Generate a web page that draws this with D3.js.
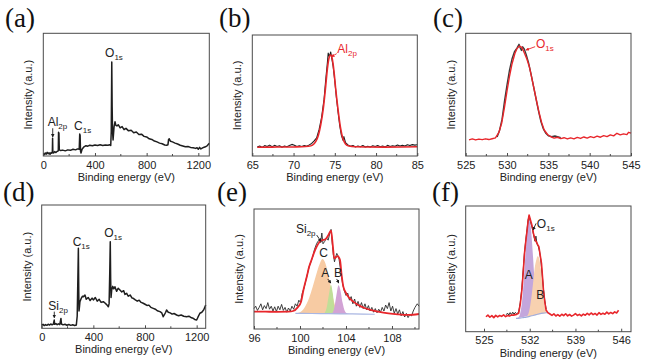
<!DOCTYPE html>
<html>
<head>
<meta charset="utf-8">
<script src="https://cdn.jsdelivr.net/npm/d3@7"></script>
<style>
  body { margin: 0; background: #fff; }
  svg { display: block; }
  text { font-family: "Liberation Sans", Arial, sans-serif; }
  text.letter { font-family: "Liberation Serif", "Times New Roman", serif; }
</style>
</head>
<body>
<svg id="fig" width="646" height="361"></svg>
<script>
// ---- data: [binding energy (eV), intensity (a.u., 0-100)] ----
const surveyA = [[0,2],[8,1.2],[15,2.5],[22,1.5],[30,3],[38,1.8],[45,2.6],[52,1.4],[60,2.8],[66,2.2],[70,3],[72,14.4],[74,3.2],[80,2.5],[88,3.6],[96,2.8],[104,3.5],[112,4],[116,4.2],[118,19.3],[121,18.5],[124,5],[135,4.4],[150,4.8],[170,4.2],[190,5],[210,4.6],[230,5.5],[250,5],[265,5.8],[278,5.5],[282,17.9],[285,17],[288,4],[292,2.4],[300,5.5],[315,7.5],[330,8.4],[345,8],[360,8.8],[380,8.3],[400,9],[420,8.5],[440,9.1],[460,8.6],[480,9],[500,8.7],[515,9.2],[522,8.5],[526,20],[530,76.7],[533,40],[536,20],[540,13],[548,24],[555,27.9],[562,25],[570,24.5],[580,25.5],[595,23],[610,24],[625,21.5],[640,22.5],[660,20.5],[680,21],[700,19],[720,19.5],[740,17.5],[760,17.8],[780,16],[800,15.5],[820,14],[840,13.5],[860,12.2],[880,11.5],[900,10.5],[920,10],[940,9],[955,8.8],[965,9.2],[970,13.6],[975,14],[985,12],[1000,11.5],[1020,10.5],[1040,9.8],[1060,8.8],[1080,8.2],[1100,7.5],[1120,7.8],[1140,7],[1160,6.8],[1180,6.2],[1190,6.8],[1200,5.5],[1210,7],[1220,5.8],[1240,7],[1255,7.5],[1270,8.5],[1285,10.3]];

const al2pData = [[65.6,7.5],[65.9,8.3],[66.2,7.1],[66.5,8.6],[66.8,7.8],[67.1,9.0],[67.4,7.6],[67.7,8.8],[68.0,7.9],[68.3,8.5],[68.6,7.3],[68.9,8.2],[69.2,7.7],[69.5,8.6],[69.8,9.6],[70.1,8.9],[70.4,7.8],[70.7,8.4],[71.0,7.9],[71.3,8.6],[71.6,8.1],[71.9,9.2],[72.2,10.4],[72.5,12.5],[72.8,15],[73.1,22],[73.4,32],[73.7,47],[73.9,63],[74.1,77],[74.2,85],[74.35,82],[74.5,86],[74.65,80],[74.8,74],[75.0,62],[75.2,48],[75.4,36],[75.6,25],[75.8,17],[76.0,13],[76.1,16],[76.3,11],[76.6,9.2],[76.9,8.1],[77.2,8.7],[77.5,7.5],[77.8,8.3],[78.1,7.6],[78.4,8.6],[78.7,7.4],[79.0,8.1],[79.3,7.5],[79.6,8.4],[79.9,7.8],[80.2,8.6],[80.5,7.6],[80.8,8.2],[81.1,7.5],[81.4,8.8],[81.7,7.9],[82.0,8.5],[82.3,8.0],[82.6,9.0],[82.9,8.2],[83.2,8.8],[83.5,8.3],[83.8,9.3],[84.1,8.6],[84.4,9.4],[84.7,9.0],[85.0,9.3]];
const al2pFit = [[65.6,7.2],[67,7.3],[68,7.4],[69,7.4],[70,7.5],[71,7.6],[71.8,8],[72.3,9],[72.7,12],[73,17],[73.3,26],[73.6,39],[73.9,58],[74.1,72],[74.3,81],[74.5,83.5],[74.7,80],[74.9,70],[75.1,56],[75.4,38],[75.7,23],[76,14],[76.3,10],[76.7,8.2],[77.5,7.6],[79,7.4],[81,7.3],[83,7.4],[85,7.6]];

const o1sFitC = [[525.4,13.2],[525.8,13.9],[526.2,13.1],[526.6,13.8],[527.0,13.3],[527.4,14.0],[527.8,13.4],[528.2,14.1],[528.6,14.8],[529.0,19],[529.35,26.6],[529.7,40],[530.0,53],[530.3,65],[530.6,75],[530.96,83.7],[531.2,87.5],[531.5,89.6],[531.8,88.5],[532.1,84],[532.4,79],[532.7,72.8],[533.0,63.5],[533.3,53.8],[533.6,44],[533.9,34.8],[534.2,27],[534.5,21.2],[534.9,17.5],[535.3,15.7],[535.7,14.6],[536.1,15.3],[536.5,14.2],[536.9,14.9],[537.3,13.9],[537.7,14.8],[538.1,14.0],[538.5,15.2],[538.9,14.3],[539.3,15.5],[539.7,14.6],[540.1,15.8],[540.5,15.0],[540.9,16.2],[541.3,15.3],[541.7,16.6],[542.1,15.8],[542.5,17.2],[542.9,16.4],[543.3,18.5],[543.7,17.2],[544.1,18.0],[544.5,17.4],[544.7,19.3],[545.0,18.6]];
const o1sDataC = [[528.8,15.5],[529.1,21],[529.4,30],[529.7,45],[530.0,58],[530.3,70],[530.6,79],[530.9,85],[531.2,88],[531.45,91],[531.6,88],[531.75,86],[531.9,89],[532.1,87],[532.35,82],[532.6,76],[532.9,67],[533.2,57],[533.5,47],[533.8,37],[534.1,28],[534.4,22],[534.7,18.5],[535.0,16.5],[535.4,15.8],[535.8,16.3],[536.2,15.6],[536.5,15.0]];

const surveyD = [[0,2.5],[10,3.2],[20,2.2],[30,3.0],[40,2.4],[50,3.3],[60,2.6],[70,3.5],[80,2.8],[90,3.4],[97,6.7],[100,3.2],[110,3.8],[120,2.9],[130,3.6],[140,3.0],[149,8],[153,3.5],[165,2.8],[180,3.3],[195,2.5],[210,3.1],[225,2.4],[240,2.9],[255,2.3],[268,2.6],[275,10],[280,40],[284,64.9],[287,30],[289,14],[293,18],[296,21.6],[305,24],[315,26],[323,25.6],[335,27],[345,23.5],[360,25],[375,22.5],[390,24.5],[400,23],[415,25],[430,22],[445,23.5],[460,21],[477,21.6],[490,20.5],[505,19],[516,17.5],[522,20],[527,45],[531,70.2],[534,40],[537,25],[542,31],[550,34],[558,32],[567,33.7],[580,30],[592,32.5],[606,31],[620,29.5],[635,30.5],[645,27.5],[658,28.4],[670,26],[685,27],[700,24.5],[709,24.3],[725,23],[740,22],[755,22.8],[770,21],[786,20.3],[800,19.5],[815,18.5],[830,18.8],[845,17],[864,16.2],[880,15.5],[895,14.2],[916,13.5],[930,12.5],[941,9.4],[950,11],[960,13],[967,14.8],[980,13],[995,12.5],[1010,11.5],[1025,12],[1045,10.8],[1060,10.2],[1080,10.8],[1100,9.8],[1122,9.4],[1140,9.8],[1160,8.5],[1173,8.1],[1185,7.2],[1200,6.7],[1210,9],[1225,12.2],[1240,13],[1255,15],[1270,18.9]];

const si2pData = [[96.0,17],[96.15,19],[96.3,15.5],[96.45,18],[96.6,21],[96.75,16],[96.9,19.5],[97.05,17],[97.2,22],[97.35,16.5],[97.5,19],[97.65,15],[97.8,18.5],[97.95,14.5],[98.1,19],[98.25,16],[98.4,20.5],[98.55,15.5],[98.7,18],[98.85,14],[99.0,17.5],[99.15,15],[99.3,19],[99.45,16.5],[99.6,21],[99.75,19],[99.9,24],[100.05,22],[100.2,30],[100.35,34],[100.5,40],[100.65,46],[100.8,52],[100.95,56],[101.1,60],[101.25,66],[101.4,70],[101.55,73],[101.7,74],[101.8,72],[101.9,80],[102.0,71],[102.15,73],[102.3,76],[102.45,74],[102.6,80],[102.7,83],[102.8,72],[102.9,62],[103.0,56],[103.1,60],[103.2,63],[103.3,61],[103.4,58],[103.55,48],[103.7,38],[103.85,32],[104.0,28],[104.15,30],[104.3,24],[104.45,27],[104.6,21],[104.75,25],[104.9,19],[105.05,23],[105.2,18],[105.35,22],[105.5,17],[105.65,21],[105.8,16],[105.95,19.5],[106.1,15],[106.25,18],[106.4,14],[106.55,17],[106.7,13.5],[106.85,16.5],[107.0,14],[107.15,18],[107.3,15],[107.45,20],[107.6,17],[107.75,22],[107.9,15],[108.05,19],[108.2,13],[108.35,17],[108.5,12.5],[108.65,16],[108.8,11],[108.95,14.5],[109.1,10],[109.25,13],[109.4,9.5],[109.55,12],[109.7,11],[109.85,15],[110.0,18],[110.2,21],[110.35,19]];
const si2pFit = [[96.0,14.5],[97.0,14.4],[98.0,14.3],[99.0,14.4],[99.4,15],[99.8,18],[100.1,23],[100.3,32.5],[100.6,44],[100.8,52],[101.0,57.5],[101.2,63],[101.45,68.6],[101.7,72.5],[101.9,74],[102.2,74.7],[102.45,78],[102.7,81.9],[102.85,70],[102.98,58.9],[103.15,60],[103.27,60.8],[103.48,57.5],[103.62,45],[103.77,35.3],[104.0,30],[104.2,26.9],[104.6,23],[105.07,20],[105.6,17.5],[106.2,15.8],[106.9,14.2],[107.7,13],[108.5,12.2],[109.4,11.7],[110.35,12.5]];
const si2pBg = [[99.6,13],[101,12.9],[102.5,12.8],[104,12.6],[105.5,12.4],[106.5,12.3]];
const si2pC = [[99.6,13],[100.0,14],[100.4,18],[100.8,26],[101.1,35],[101.4,45],[101.7,54],[101.95,58.3],[102.2,55],[102.45,46],[102.7,34],[102.95,23],[103.2,16],[103.5,13.2],[103.8,12.7]];
const si2pA = [[102.1,12.9],[102.3,17],[102.5,28],[102.7,36.7],[102.85,30],[103.0,18],[103.2,13.5],[103.4,12.7]];
const si2pB = [[102.75,12.8],[102.95,16],[103.15,27],[103.35,36.5],[103.5,33],[103.7,22],[103.9,15],[104.1,13],[104.3,12.6]];

const o1sFitF = [[525.3,11.9],[525.6,13.2],[525.9,11.5],[526.2,12.8],[526.5,11.2],[526.8,13.0],[527.1,11.8],[527.4,12.9],[527.7,12.2],[528.0,13.4],[528.3,12.0],[528.6,12.9],[528.9,12.4],[529.2,13.3],[529.5,13.2],[530.0,13.8],[530.3,14.6],[530.55,22],[530.8,33.2],[531.0,47],[531.2,62.4],[531.4,72],[531.6,80.9],[531.75,88],[531.9,92.8],[532.1,89],[532.4,83.5],[532.55,78.5],[532.7,75.6],[532.85,72.8],[533.0,71.6],[533.2,69.5],[533.4,67.6],[533.6,61],[533.8,54.4],[533.95,44],[534.1,33.2],[534.3,24],[534.5,17.3],[534.8,15],[535.1,14.1],[535.4,13.0],[535.7,14.2],[536.0,12.5],[536.3,13.6],[536.6,12.3],[536.9,13.9],[537.2,12.8],[537.5,14.3],[537.8,12.6],[538.1,13.7],[538.4,12.4],[538.7,13.2],[539.0,14.4],[539.3,12.9],[539.6,13.8],[539.9,12.6],[540.2,14.0],[540.5,13.1],[540.8,14.6],[541.1,13.4],[541.4,14.9],[541.7,13.6],[542.0,14.5],[542.3,13.2],[542.6,15.1],[542.9,13.8],[543.2,14.7],[543.5,13.9],[543.8,15.6],[544.1,14.2],[544.4,15.3],[544.7,14.4],[545.0,15.8],[545.3,14.9],[545.6,17.0]];
const o1sDataF = [[528.4,13.5],[528.6,14.8],[528.8,13.2],[529.0,15.2],[529.2,13.6],[529.4,15.5],[529.6,14.0],[529.8,15.3],[530.0,14.3],[530.3,15.5],[530.55,23],[530.8,35],[531.0,49],[531.2,63],[531.4,73],[531.6,82],[531.75,89],[531.9,92],[532.1,88],[532.4,82],[532.6,77],[532.8,72],[532.95,76],[533.1,70],[533.3,68],[533.5,64],[533.7,57],[533.9,46],[534.1,34],[534.3,25],[534.5,18]];
const o1sBgF = [[529.9,10.6],[530.5,10.8],[531.0,11.2],[531.5,11.6],[532.0,12.2],[532.5,12.9],[533.0,13.6],[533.5,14.3],[534.0,14.8],[534.5,15.1],[535.0,15.2]];
const o1sA = [[529.9,10.6],[530.3,11.5],[530.6,16],[530.9,28],[531.1,42],[531.3,58],[531.5,73],[531.7,85],[531.9,90],[532.1,86],[532.3,75],[532.5,60],[532.7,44],[532.9,31],[533.1,22],[533.3,17],[533.6,14.5],[534.0,14.8]];
const o1sB = [[531.2,11.5],[531.6,12.5],[531.9,16],[532.2,25],[532.5,38],[532.8,52],[533.0,57],[533.2,60],[533.4,59],[533.6,54],[533.8,45],[534.0,33],[534.2,23],[534.5,17],[534.8,15.2],[535.0,15.2]];

const surveyTicks = [0, 400, 800, 1200];
const al2pTicks = [65, 70, 75, 80, 85];
const o1sTicksC = [525, 530, 535, 540, 545];
const si2pTicks = [96, 100, 104, 108];
const o1sTicksF = [525, 532, 539, 546];

const RED = "#e8262b", BLACK = "#1e1e1e";
const svg = d3.select("#fig");

svg.append("defs").selectAll("marker")
  .data([["arrBlack", BLACK], ["arrRed", RED]])
  .join("marker")
  .attr("id", d => d[0])
  .attr("viewBox", "0 0 6 6").attr("refX", 5).attr("refY", 3)
  .attr("markerWidth", 4).attr("markerHeight", 4).attr("orient", "auto")
  .append("path").attr("d", "M0,0L6,3L0,6Z").attr("fill", d => d[1]);

function panel(p) {
  const [x0, x1, y0, y1] = p.box;
  const x = d3.scaleLinear().domain(p.domain).range([x0, x1]);
  const y = d3.scaleLinear().domain([0, 100]).range([y1, y0]);
  const g = svg.append("g");

  // fitted component fills
  (p.fills || []).forEach(f => {
    g.append("path")
      .attr("d", d3.line().x(d => x(d[0])).y(d => y(d[1])).curve(d3.curveMonotoneX)(f.data) + "Z")
      .attr("fill", f.color).attr("stroke", "none");
  });

  (p.series || []).forEach(s => {
    g.append("path")
      .attr("d", d3.line().x(d => x(d[0])).y(d => y(d[1])).curve(s.smooth ? d3.curveMonotoneX : d3.curveLinear)(s.data))
      .attr("fill", "none").attr("stroke", s.color)
      .attr("stroke-width", s.width).attr("stroke-linejoin", "round");
  });

  // frame
  g.append("rect").attr("x", x0).attr("y", y0).attr("width", x1 - x0).attr("height", y1 - y0)
    .attr("fill", "none").attr("stroke", "#4a4a4a").attr("stroke-width", 1);

  // bottom axis, ticks inside
  const ax = g.append("g").attr("transform", `translate(0,${y1})`)
    .call(d3.axisBottom(x).tickValues(p.ticks).tickSize(-3).tickPadding(5).tickFormat(d3.format("d")));
  ax.select(".domain").remove();
  ax.selectAll("line").attr("stroke", "#4a4a4a");
  ax.selectAll("text").attr("font-size", 11).attr("fill", "#222")
    .style("font-family", "'Liberation Sans', Arial, sans-serif");
  g.selectAll(".minor").data(p.minor).join("line")
    .attr("x1", d => x(d)).attr("x2", d => x(d)).attr("y1", y1).attr("y2", y1 - 2)
    .attr("stroke", "#4a4a4a");

  g.append("text").attr("x", (x0 + x1) / 2).attr("y", y1 + 25)
    .attr("text-anchor", "middle").attr("font-size", 11).attr("fill", "#222")
    .text("Binding energy (eV)");
  g.append("text").attr("transform", `translate(${x0 - 15},${(y0 + y1) / 2}) rotate(-90)`)
    .attr("text-anchor", "middle").attr("dy", "0.35em").attr("font-size", 11).attr("fill", "#222")
    .text("Intensity (a.u.)");

  g.append("text").attr("class", "letter").attr("x", p.letter[1]).attr("y", p.letter[2])
    .attr("font-size", 27).attr("fill", "#111").text(p.letter[0]);

  (p.arrows || []).forEach(a => {
    g.append("line")
      .attr("x1", x(a.from[0])).attr("y1", y(a.from[1]))
      .attr("x2", x(a.to[0])).attr("y2", y(a.to[1]))
      .attr("stroke", a.color).attr("stroke-width", 0.9)
      .attr("marker-end", a.color === RED ? "url(#arrRed)" : "url(#arrBlack)");
  });

  (p.labels || []).forEach(l => {
    const t = g.append("text").attr("x", x(l.at[0])).attr("y", y(l.at[1]))
      .attr("font-size", 12).attr("fill", l.color || "#222")
      .attr("text-anchor", l.anchor || "start");
    t.append("tspan").text(l.main);
    if (l.sub) t.append("tspan").attr("font-size", 8).attr("dy", 3).text(l.sub);
  });
}

panel({
  box: [43.3, 209.3, 33.3, 156], domain: [0, 1285], ticks: surveyTicks,
  minor: [200, 600, 1000], letter: ["(a)", 5, 27],
  series: [{ data: surveyA, color: BLACK, width: 1.5 }],
  labels: [
    { main: "Al", sub: "2p", at: [34, 24.4] },
    { main: "C", sub: "1s", at: [238, 21.2] },
    { main: "O", sub: "1s", at: [478, 80.4] }
  ],
  arrows: [{ from: [73, 22.6], to: [73, 15.5], color: BLACK }]
});

panel({
  box: [252.3, 417.3, 35, 156], domain: [65, 85], ticks: al2pTicks,
  minor: [67.5, 72.5, 77.5, 82.5], letter: ["(b)", 219, 27],
  series: [
    { data: al2pData, color: BLACK, width: 1.1 },
    { data: al2pFit, color: RED, width: 1.6, smooth: true }
  ],
  labels: [{ main: "Al", sub: "2p", at: [75.3, 84.9], color: RED }],
  arrows: [{ from: [75.23, 84.6], to: [74.6, 82], color: RED }]
});

panel({
  box: [465.7, 631, 33.3, 156], domain: [525, 545], ticks: o1sTicksC,
  minor: [527.5, 532.5, 537.5, 542.5], letter: ["(c)", 433, 27],
  series: [
    { data: o1sDataC, color: "#3a3a3a", width: 1.4 },
    { data: o1sFitC, color: RED, width: 1.4 }
  ],
  labels: [{ main: "O", sub: "1s", at: [533.5, 88.3], color: RED }],
  arrows: [{ from: [533.4, 89.1], to: [532.3, 86.4], color: RED }]
});

panel({
  box: [41.7, 205.7, 205, 328.3], domain: [0, 1270], ticks: surveyTicks,
  minor: [200, 600, 1000], letter: ["(d)", 3, 200.5],
  series: [{ data: surveyD, color: BLACK, width: 1.5 }],
  labels: [
    { main: "Si", sub: "2p", at: [51, 14.8] },
    { main: "C", sub: "1s", at: [240, 67] },
    { main: "O", sub: "1s", at: [484.5, 73.8] }
  ],
  arrows: [{ from: [97.5, 13.5], to: [97.5, 8.6], color: BLACK }]
});

panel({
  box: [254, 419, 209, 329], domain: [96, 110.35], ticks: si2pTicks,
  minor: [98, 102, 106, 110], letter: ["(e)", 217, 200.5],
  fills: [
    { data: si2pC, color: "#f7cba3" },
    { data: si2pA, color: "#c0de98" },
    { data: si2pB, color: "#d2a3d5" }
  ],
  series: [
    { data: si2pBg, color: "#a9b6e2", width: 1.2, smooth: true },
    { data: si2pData, color: "#2a2a2a", width: 0.9 },
    { data: si2pFit, color: RED, width: 1.8, smooth: true }
  ],
  labels: [
    { main: "Si", sub: "2p", at: [99.65, 79.75] },
    { main: "C", at: [102.06, 59.75], anchor: "middle" },
    { main: "A", at: [102.2, 43.6], anchor: "middle" },
    { main: "B", at: [103.3, 43.6], anchor: "middle" }
  ],
  arrows: [
    { from: [101.45, 78.3], to: [101.83, 73], color: BLACK },
    { from: [102.41, 41.7], to: [102.68, 38.3], color: BLACK },
    { from: [103.19, 41.7], to: [103.37, 38.3], color: BLACK }
  ]
});

panel({
  box: [465.7, 631, 206, 331.7], domain: [522.2, 547.5], ticks: o1sTicksF,
  minor: [528.5, 535.5, 542.5], letter: ["(f)", 432, 200.5],
  fills: [
    { data: o1sA, color: "#c3a6dc" },
    { data: o1sB, color: "#f8d1b0" }
  ],
  series: [
    { data: o1sBgF, color: "#9fadde", width: 1.1, smooth: true },
    { data: o1sDataF, color: "#2a2a2a", width: 1 },
    { data: o1sFitF, color: RED, width: 1.6 }
  ],
  labels: [
    { main: "O", sub: "1s", at: [533.09, 82.7] },
    { main: "A", at: [531.86, 41.9], anchor: "middle" },
    { main: "B", at: [533.6, 25.8], anchor: "middle" }
  ],
  arrows: [{ from: [532.98, 86.2], to: [532.5, 81], color: BLACK }]
});
</script>
</body>
</html>
